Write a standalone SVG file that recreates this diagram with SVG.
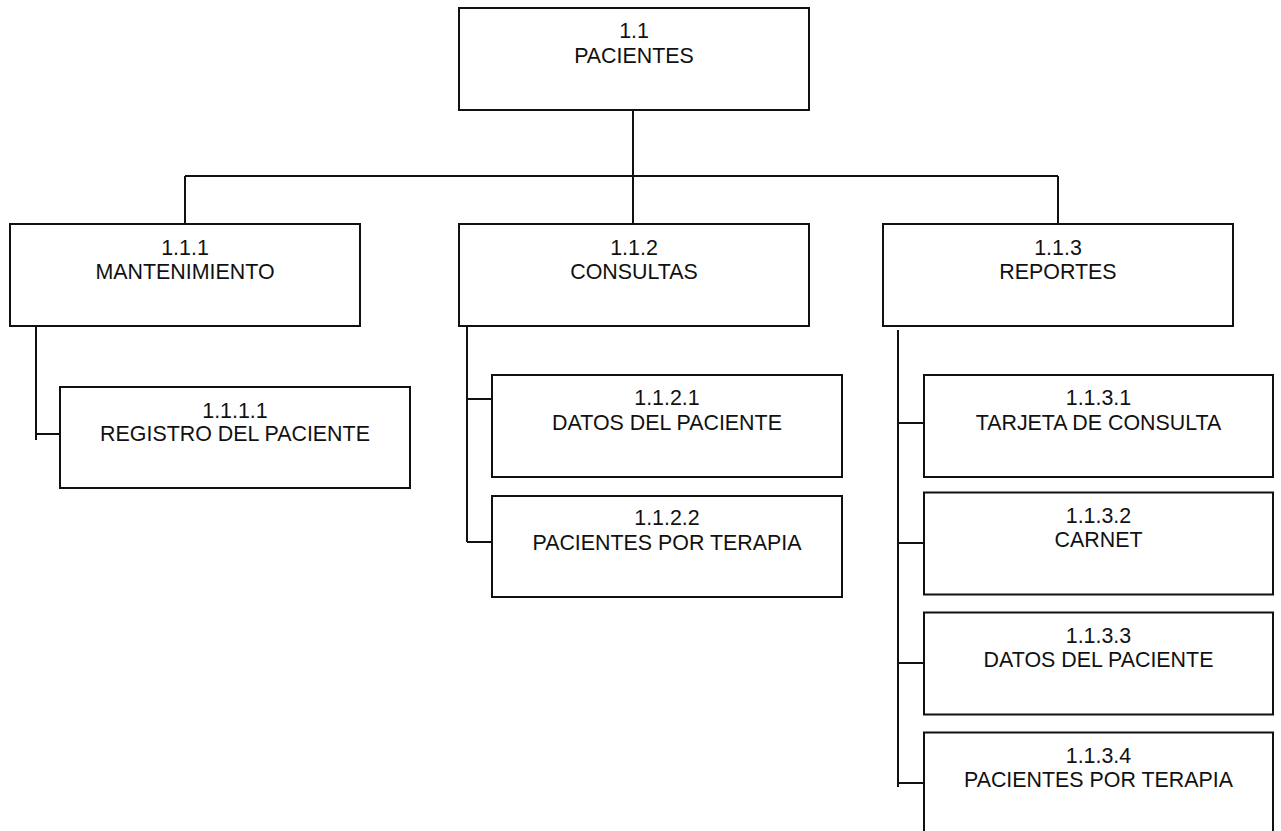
<svg xmlns="http://www.w3.org/2000/svg" width="1281" height="831" viewBox="0 0 1281 831">
  <style>
    .box { fill: #ffffff; stroke: #111111; stroke-width: 2; }
    .wire { fill: none; stroke: #111111; stroke-width: 2; }
    .lbl { font-family: "Liberation Sans", Arial, sans-serif; font-size: 21.4px; fill: #111111; text-anchor: middle; }
  </style>
  <rect width="1281" height="831" fill="#ffffff"/>

  <!-- tree connectors -->
  <g id="connectors">
    <path class="wire" d="M633 103 V224"/>
    <path class="wire" d="M185 176 H1058"/>
    <path class="wire" d="M185 176 V224"/>
    <path class="wire" d="M1058 176 V224"/>
    <path class="wire" d="M36 326 V440 M36 434 H60"/>
    <path class="wire" d="M467 326 V542 M467 399 H492 M467 542 H492"/>
    <path class="wire" d="M898 330 V787 M898 423 H924 M898 543 H924 M898 663 H924 M898 783 H924"/>
  </g>

  <g id="n-1-1">
    <rect class="box" x="459" y="8" width="350" height="102"/>
    <text class="lbl" x="634" y="37.5">1.1</text>
    <text class="lbl" x="634" y="63">PACIENTES</text>
  </g>

  <g id="n-1-1-1">
    <rect class="box" x="10" y="224" width="350" height="102"/>
    <text class="lbl" x="185" y="254.5">1.1.1</text>
    <text class="lbl" x="185" y="279">MANTENIMIENTO</text>
  </g>

  <g id="n-1-1-2">
    <rect class="box" x="459" y="224" width="350" height="102"/>
    <text class="lbl" x="634" y="254.5">1.1.2</text>
    <text class="lbl" x="634" y="279">CONSULTAS</text>
  </g>

  <g id="n-1-1-3">
    <rect class="box" x="883" y="224" width="350" height="102"/>
    <text class="lbl" x="1058" y="254.5">1.1.3</text>
    <text class="lbl" x="1058" y="279">REPORTES</text>
  </g>

  <g id="n-1-1-1-1">
    <rect class="box" x="60" y="387" width="350" height="101"/>
    <text class="lbl" x="235" y="417.5">1.1.1.1</text>
    <text class="lbl" x="235" y="441">REGISTRO DEL PACIENTE</text>
  </g>

  <g id="n-1-1-2-1">
    <rect class="box" x="492" y="375" width="350" height="102"/>
    <text class="lbl" x="667" y="405">1.1.2.1</text>
    <text class="lbl" x="667" y="430">DATOS DEL PACIENTE</text>
  </g>

  <g id="n-1-1-2-2">
    <rect class="box" x="492" y="496" width="350" height="101"/>
    <text class="lbl" x="667" y="525">1.1.2.2</text>
    <text class="lbl" x="667" y="550">PACIENTES POR TERAPIA</text>
  </g>

  <g id="n-1-1-3-1">
    <rect class="box" x="924" y="375" width="349" height="102"/>
    <text class="lbl" x="1098.5" y="405">1.1.3.1</text>
    <text class="lbl" x="1098.5" y="430">TARJETA DE CONSULTA</text>
  </g>

  <g id="n-1-1-3-2">
    <rect class="box" x="924" y="492.5" width="349" height="102"/>
    <text class="lbl" x="1098.5" y="522.5">1.1.3.2</text>
    <text class="lbl" x="1098.5" y="547">CARNET</text>
  </g>

  <g id="n-1-1-3-3">
    <rect class="box" x="924" y="612.5" width="349" height="102"/>
    <text class="lbl" x="1098.5" y="642.5">1.1.3.3</text>
    <text class="lbl" x="1098.5" y="667">DATOS DEL PACIENTE</text>
  </g>

  <g id="n-1-1-3-4">
    <rect class="box" x="924" y="732.5" width="349" height="110"/>
    <text class="lbl" x="1098.5" y="762.5">1.1.3.4</text>
    <text class="lbl" x="1098.5" y="787">PACIENTES POR TERAPIA</text>
  </g>
</svg>
